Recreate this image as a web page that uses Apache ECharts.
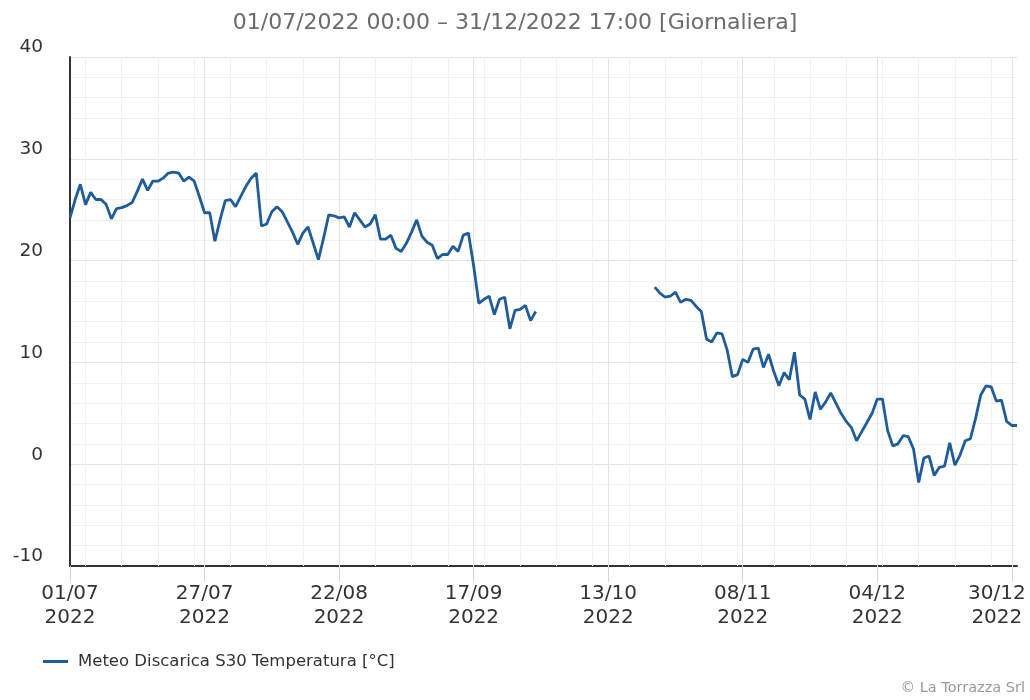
<!DOCTYPE html>
<html>
<head>
<meta charset="utf-8">
<script src="https://cdn.jsdelivr.net/npm/echarts@6/dist/echarts.min.js"></script>
<style>
  html, body { margin: 0; padding: 0; background: #ffffff; }
  #chart { width: 1030px; height: 700px; }
</style>
</head>
<body>
<div id="chart"></div>
<script>
// Daily temperature, Meteo Discarica S30, from 01/07/2022 (day 0) to 31/12/2022 (day 183)
const startDate = Date.UTC(2022, 6, 1);
const DAY_MS = 86400000;
const seriesName = 'Meteo Discarica S30 Temperatura [°C]';
const titleText = '01/07/2022 00:00 – 31/12/2022 17:00 [Giornaliera]';
const creditText = '© La Torrazza Srl';

// one value per day; null = no reading (gap between end of September and late October)
const temperature = [
  24.2, 26.0, 27.5, 25.5, 26.7, 26.0, 26.0, 25.5, 24.1, 25.1,
  25.2, 25.4, 25.7, 26.8, 28.0, 26.9, 27.8, 27.8, 28.1, 28.6,
  28.7, 28.6, 27.8, 28.2, 27.8, 26.3, 24.7, 24.7, 21.9, 24.0,
  25.9, 26.0, 25.3, 26.3, 27.3, 28.1, 28.6, 23.4, 23.6, 24.8,
  25.3, 24.8, 23.8, 22.8, 21.6, 22.7, 23.3, 21.7, 20.1, 22.2,
  24.5, 24.4, 24.2, 24.3, 23.3, 24.7, 24.0, 23.3, 23.6, 24.5,
  22.1, 22.1, 22.5, 21.2, 20.9, 21.7, 22.8, 24.0, 22.4, 21.8,
  21.5, 20.2, 20.6, 20.6, 21.4, 20.9, 22.5, 22.7, 19.5, 15.8,
  16.2, 16.5, 14.7, 16.2, 16.4, 13.3, 15.1, 15.2, 15.6, 14.1, 15.0,
  null, null, null, null, null, null, null, null, null, null, null,
  null, null, null, null, null, null, null, null, null, null, null,
  17.4, 16.8, 16.4, 16.5, 16.9, 15.9, 16.2, 16.1, 15.5, 15.0,
  12.3, 12.0, 12.9, 12.8, 11.2, 8.6, 8.8, 10.3, 10.0, 11.3,
  11.4, 9.5, 10.8, 9.1, 7.7, 9.0, 8.3, 11.0, 6.8, 6.4,
  4.4, 7.1, 5.4, 6.1, 7.0, 6.0, 5.0, 4.2, 3.6, 2.3,
  3.2, 4.1, 5.0, 6.4, 6.4, 3.3, 1.8, 2.0, 2.8, 2.7,
  1.5, -1.8, 0.6, 0.8, -1.1, -0.3, -0.2, 2.1, -0.1, 0.9,
  2.3, 2.5, 4.5, 6.8, 7.7, 7.6, 6.2, 6.3, 4.2, 3.8, 3.8
];

// axis ticks
const xLabelDays = [0, 26, 52, 78, 104, 130, 156, 182];
const yMin = -10;
const yMax = 40;
const yStep = 10;

const FONT = 'DejaVu Sans';
const LINE_COLOR = '#1f5c99';

function dayToDate(d) {
  return new Date(startDate + d * DAY_MS);
}
function pad2(n) { return (n < 10 ? '0' : '') + n; }

const lastDay = temperature.length - 1;

// vertical grid: weekly lines on Mondays, stronger lines at labelled dates
const gridLines = [];
for (let d = 1; d < lastDay; d++) {
  if (xLabelDays.indexOf(d) >= 0) {
    gridLines.push({ xAxis: d, lineStyle: { color: '#e3e3e3', width: 1, type: 'solid' } });
  } else if (dayToDate(d).getUTCDay() === 1) {
    gridLines.push({ xAxis: d, lineStyle: { color: '#f1f1f1', width: 1, type: 'solid' } });
  }
}

const chart = echarts.init(document.getElementById('chart'));
chart.setOption({
  animation: false,
  backgroundColor: '#ffffff',
  title: {
    text: titleText,
    left: 'center',
    top: 12,
    padding: [0, 0, 0, 10],
    textStyle: { fontFamily: FONT, fontSize: 22, fontWeight: 'normal', color: '#6b6b6b' }
  },
  legend: {
    data: [{ name: seriesName, icon: 'rect' }],
    left: 38,
    top: 648,
    itemWidth: 25,
    itemHeight: 3,
    selectedMode: false,
    textStyle: { fontFamily: FONT, fontSize: 16.5, color: '#333333', padding: [0, 0, 0, 5] }
  },
  grid: { left: 70, top: 57, right: 13, bottom: 134, outerBoundsMode: 'none', containLabel: false },
  xAxis: {
    type: 'value',
    min: 0,
    max: lastDay,
    splitLine: { show: false },
    axisLine: { show: true, onZero: false, lineStyle: { color: '#333333', width: 2 } },
    axisTick: {
      show: true,
      customValues: xLabelDays,
      length: 16,
      lineStyle: { color: '#ccd6eb', width: 1 }
    },
    axisLabel: {
      customValues: xLabelDays,
      margin: 16,
      formatter: function (v) {
        const dt = dayToDate(v);
        const txt = pad2(dt.getUTCDate()) + '/' + pad2(dt.getUTCMonth() + 1);
        const yr = String(dt.getUTCFullYear());
        if (v === xLabelDays[xLabelDays.length - 1]) {
          return '{e|' + txt + '}\n{e|' + yr + '}';
        }
        return '{n|' + txt + '}\n{n|' + yr + '}';
      },
      rich: {
        n: { fontFamily: FONT, fontSize: 20, lineHeight: 24, color: '#333333' },
        e: { fontFamily: FONT, fontSize: 20, lineHeight: 24, color: '#333333', padding: [0, 30, 0, 0] }
      }
    }
  },
  yAxis: {
    type: 'value',
    min: yMin,
    max: yMax,
    interval: yStep,
    axisLine: { show: true, onZero: false, lineStyle: { color: '#333333', width: 2 } },
    axisTick: { show: false },
    axisLabel: {
      fontFamily: FONT,
      fontSize: 18.5,
      color: '#333333',
      margin: 27,
      verticalAlign: 'bottom'
    },
    splitLine: { show: true, lineStyle: { color: '#e3e3e3', width: 1 } },
    minorTick: { show: false, splitNumber: 5 },
    minorSplitLine: { show: true, lineStyle: { color: '#f1f1f1', width: 1 } }
  },
  series: [
    {
      name: 'grid',
      type: 'line',
      data: [],
      silent: true,
      z: 1,
      markLine: {
        z: 1,
        silent: true,
        animation: false,
        symbol: ['none', 'none'],
        label: { show: false },
        emphasis: { disabled: true },
        data: gridLines
      }
    },
    {
      name: seriesName,
      type: 'line',
      z: 3,
      data: temperature.map(function (v, i) { return [i, v]; }),
      showSymbol: false,
      symbol: 'none',
      connectNulls: false,
      lineStyle: { color: LINE_COLOR, width: 2.8 },
      itemStyle: { color: LINE_COLOR }
    }
  ],
  graphic: [
    {
      type: 'text',
      right: 5,
      top: 681,
      style: { text: creditText, fill: '#999999', fontFamily: FONT, fontSize: 14.5 }
    }
  ]
});
</script>
</body>
</html>
